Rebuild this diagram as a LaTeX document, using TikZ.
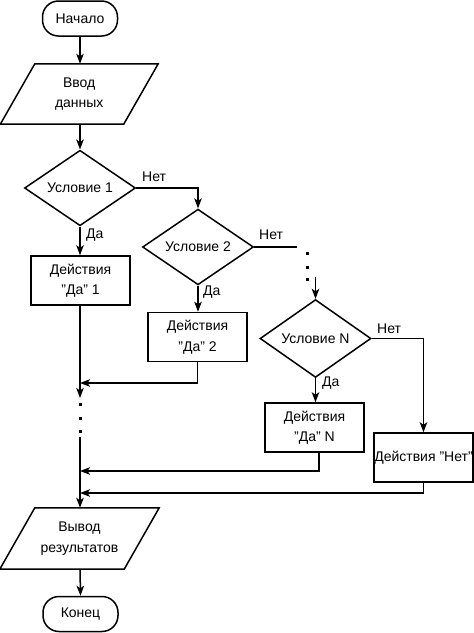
\documentclass[tikz,border=0pt]{standalone}
\usepackage{fontspec}
\setmainfont{Liberation Sans}
\usetikzlibrary{shapes.geometric,arrows.meta}
\begin{document}
\begin{tikzpicture}[x=1pt,y=-1pt,
  every node/.style={font=\fontsize{14}{20.5}\selectfont, inner sep=0pt},
  line/.style={line width=1.5pt},
  arr/.style={line width=1.5pt, -{Stealth[length=10pt,width=7.5pt,inset=2.5pt]}},
  term/.style={draw, line width=1.5pt, rounded corners=16pt, minimum width=75pt, minimum height=35pt},
  proc/.style={draw, line width=1.5pt, minimum width=99pt, minimum height=49pt, align=center},
  dec/.style={draw, line width=1.5pt, diamond, minimum width=111pt, minimum height=71pt},
  io/.style={minimum width=123pt, minimum height=60pt, align=center},
  lab/.style={anchor=west},
  dotm/.style={rectangle, fill, minimum size=3pt}
]
\useasboundingbox (0,0) rectangle (474,633);

% nodes
\node[term] (start) at (80,18.5) {Начало};
\node[io] (in) at (79.25,94) {Ввод\\данных};
\draw[line] ([xshift=17.25pt]in.north west) -- ([xshift=17.25pt]in.north east)
  -- ([xshift=-17.25pt]in.south east) -- ([xshift=-17.25pt]in.south west) -- cycle;

\node[dec] (c1) at (80,188) {Условие 1};
\node[proc] (b1) at (80.5,280.5) {Действия\\"Да" 1};
\node[dec] (c2) at (198,247) {Условие 2};
\node[proc] (b2) at (197.5,337) {Действия\\"Да" 2};
\node[dec] (cN) at (315.5,338.5) {Условие N};
\node[proc] (bN) at (314.5,427.5) {Действия\\"Да" N};
\node[proc] (bNo) at (423.5,457.5) {Действия "Нет"};

\node[io, minimum width=124pt, minimum height=61pt] (out) at (79.5,538.5) {Вывод\\результатов};
\draw[line] ([xshift=17.5pt]out.north west) -- ([xshift=17.5pt]out.north east)
  -- ([xshift=-17.5pt]out.south east) -- ([xshift=-17.5pt]out.south west) -- cycle;
\node[term] (end) at (80.5,614) {Конец};

% labels
\node[lab] (l1y) at (86,235) {Да};
\node[lab] (l1n) at (142,177) {Нет};
\node[lab] (l2y) at (203,292) {Да};
\node[lab] (l2n) at (259,235) {Нет};
\node[lab] (lNy) at (322,383) {Да};
\node[lab] (lNn) at (377,329) {Нет};

% dots
\node[dotm] (d1) at (307,253) {};
\node[dotm] (d2) at (307,267) {};
\node[dotm] (d3) at (307,279) {};
\node[dotm] (d4) at (80,404) {};
\node[dotm] (d5) at (80,418) {};
\node[dotm] (d6) at (80,431) {};

% coordinates
\coordinate (c2e) at (297,247);
\coordinate (cNin) at (315.5,277);
\coordinate (j1) at (80,383);
\coordinate (m1) at (80,398);
\coordinate (m2) at (80,437);
\coordinate (j2) at (80,471);
\coordinate (j3) at (80,493);

% connectors
\draw[arr] (start.south) -- (start.south |- in.north);
\draw[arr] (in.south -| start) -- (c1.north);
\draw[arr] (c1.south) -- (c1.south |- b1.north);
\draw[arr] (c1.east) -| (c2.north);
\draw[line] (c2.east) -- (c2e);
\draw[arr] (cNin) -- (cN.north);
\draw[arr] (c2.south) -- (c2.south |- b2.north);
\draw[arr] (b2.south) |- (j1);
\draw[arr] (b1.south -| m1) -- (m1);
\draw[arr] (m2) -- (m2 |- out.north);
\draw[arr] (cN.south) -- (cN.south |- bN.north);
\draw[arr] (cN.east) -| (bNo.north);
\draw[arr] ([xshift=4.5pt]bN.south) |- (j2);
\draw[arr] (bNo.south) |- (j3);
\draw[arr] (out.south -| m2) -- (end.north);
\end{tikzpicture}
\end{document}
